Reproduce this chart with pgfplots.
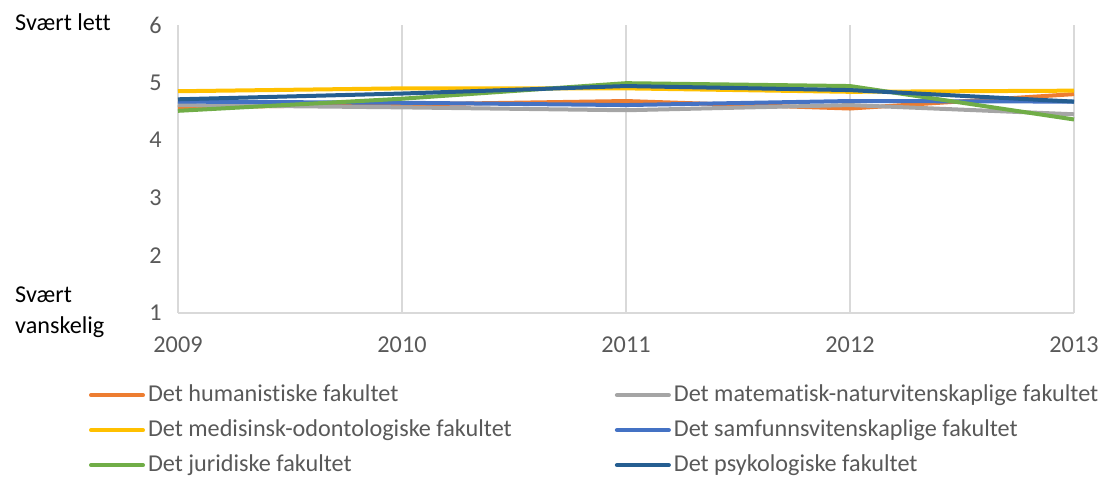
\documentclass[border=0pt]{standalone}
\usepackage{pgfplots}
\pgfplotsset{compat=1.18}
\usepackage{fontspec}
\setmainfont[Ligatures=NoCommon]{Carlito}
\definecolor{cOrange}{HTML}{ED7D31}
\definecolor{cGray}{HTML}{A5A5A5}
\definecolor{cYellow}{HTML}{FFC000}
\definecolor{cBlue}{HTML}{4472C4}
\definecolor{cGreen}{HTML}{70AD47}
\definecolor{cDark}{HTML}{255E91}
\definecolor{tickgray}{HTML}{595959}
\definecolor{gridgray}{HTML}{D9D9D9}
\begin{document}
\fontsize{24.2}{29}\selectfont
\begin{tikzpicture}
\path[use as bounding box] (0,0) rectangle (1101pt,478pt);
\begin{axis}[
  at={(178pt,165pt)}, anchor=south west,
  scale only axis, width=896pt, height=288pt,
  xmin=2009, xmax=2013, ymin=1, ymax=6,
  xtick={2009,2010,2011,2012,2013},
  ytick={1,2,3,4,5,6},
  /pgf/number format/set thousands separator={},
  /pgf/number format/assume math mode=true,
  tick label style={font=\fontsize{24.2}{29}\selectfont, text=tickgray},
  major tick length=0pt,
  axis x line*=bottom, axis y line*=left,
  x axis line style={draw=gridgray, line width=1.3pt, -},
  y axis line style={draw=none, -},
  xmajorgrids, major grid style={draw=gridgray, line width=1.3pt},
  yticklabel style={xshift=-8pt},
  xticklabel style={yshift=-16pt},
  clip=false,
  legend columns=2,
  legend cell align=left,
  legend style={draw=none, fill=none, inner sep=0pt, outer sep=0pt,
    at={(-0.0993,-0.2400)}, anchor=north west,
    font=\fontsize{24.2}{29}\selectfont, text=tickgray,
    row sep=9pt,
    nodes={text height=17pt, text depth=5pt, inner ysep=2pt, inner xsep=3pt},
    /tikz/every even column/.append style={column sep=100pt}},
  legend image code/.code={\draw[#1, line width=4pt, line cap=round] (0pt,0pt) -- (52pt,0pt);},
  every axis plot/.append style={line width=4pt, line join=round},
]
\addplot[color=cOrange] coordinates {(2009,4.57) (2010,4.62) (2011,4.68) (2012,4.55) (2013,4.80)};
\addlegendentry{Det humanistiske fakultet}
\addplot[color=cGray] coordinates {(2009,4.61) (2010,4.57) (2011,4.52) (2012,4.61) (2013,4.45)};
\addlegendentry{Det matematisk-naturvitenskaplige fakultet}
\addplot[color=cYellow] coordinates {(2009,4.85) (2010,4.90) (2011,4.90) (2012,4.84) (2013,4.86)};
\addlegendentry{Det medisinsk-odontologiske fakultet}
\addplot[color=cBlue] coordinates {(2009,4.67) (2010,4.65) (2011,4.61) (2012,4.68) (2013,4.67)};
\addlegendentry{Det samfunnsvitenskaplige fakultet}
\addplot[color=cGreen] coordinates {(2009,4.51) (2010,4.72) (2011,4.99) (2012,4.94) (2013,4.36)};
\addlegendentry{Det juridiske fakultet}
\addplot[color=cDark] coordinates {(2009,4.71) (2010,4.81) (2011,4.94) (2012,4.87) (2013,4.67)};
\addlegendentry{Det psykologiske fakultet}
\end{axis}
\node[anchor=west, inner sep=0pt] at (15pt,456pt) {Svært lett};
\node[anchor=west, inner sep=0pt] at (15pt,183pt) {Svært};
\node[anchor=west, inner sep=0pt] at (15pt,151pt) {vanskelig};
\end{tikzpicture}
\end{document}
